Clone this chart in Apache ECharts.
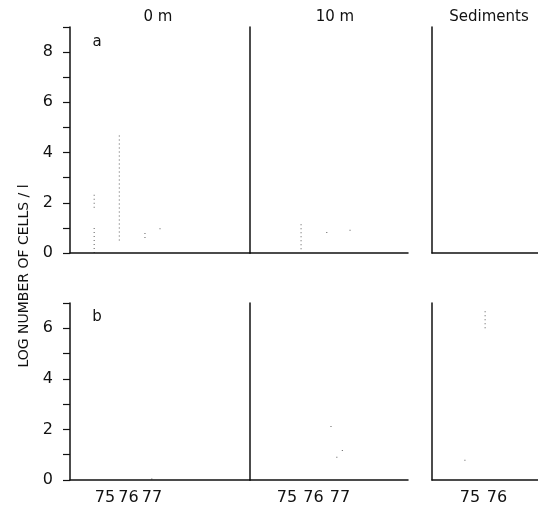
<!DOCTYPE html>
<html>
<head>
<meta charset="utf-8">
<title>Log number of cells</title>
<script src="https://cdn.jsdelivr.net/npm/echarts@6/dist/echarts.min.js"></script>
<style>
	html, body {margin:0; padding:0; background:#fff;}
	#main {width:538px; height:513px;}
</style>
</head>
<body>
<div id="main"></div>
<script>
// year tick labels under each column
var years = [75, 76, 77];
var sedYears = [75, 76];
var yTicksA = [0, 2, 4, 6, 8];
var yTicksB = [0, 2, 4, 6];
var columns = ['0 m', '10 m', 'Sediments'];

// dotted traces [year, log cells]; '-' breaks the trace
var a0m = [[74.54, 0], [74.54, 1.05], '-', [74.54, 1.8], [74.54, 2.4], '-',
	[75.61, 0.5], [75.61, 4.7], '-', [76.70, 0.6], [76.70, 0.92], '-', [77.34, 0.95], [77.34, 1.0]];
var a10m = [[75.53, 0.15], [75.53, 1.25], '-', [76.50, 0.80], [76.50, 0.84], '-', [77.38, 0.89], [77.38, 0.93]];
var aSed = [];
var b0m = [[76.99, 0.02], [76.99, 0.15]];
var b10m = [[76.66, 2.1], [76.66, 2.18], '-', [76.88, 0.88], [76.88, 0.95], '-', [77.09, 1.15], [77.09, 1.22]];
var bSed = [[74.81, 0.76], [74.81, 0.82], '-', [75.56, 6.0], [75.56, 6.75]];

var font = 'DejaVu Sans';
var black = '#111';

function xAx(idx, min, max, labels){
	return {
		type : 'value', gridIndex : idx, min : min, max : max, z : 5,
		splitLine : {show : false},
		axisLine : {show : true, onZero : false, lineStyle : {color : black, width : 1.5}},
		axisTick : {show : false},
		axisLabel : labels ? {show : true, customValues : labels, margin : 10, color : black, fontSize : 16, fontFamily : font} : {show : false}
	};
}
function yAx(idx, max, labels){
	return {
		type : 'value', gridIndex : idx, min : 0, max : max, interval : 1, z : 5,
		splitLine : {show : false},
		axisLine : {show : true, lineStyle : {color : black, width : 1.5}},
		axisTick : {show : !!labels, length : 7, lineStyle : {color : black, width : 1.2}},
		axisLabel : labels ? {show : true, customValues : labels, margin : 17, color : black, fontSize : 16, fontFamily : font} : {show : false}
	};
}
function trace(idx, data){
	return {
		type : 'line', xAxisIndex : idx, yAxisIndex : idx, data : data,
		showSymbol : false, silent : true, z : 2,
		lineStyle : {color : '#777', width : 1.2, type : [1, 3]}
	};
}
function label(x, y, text, size, rot){
	return {type : 'text', x : x, y : y, rotation : rot || 0,
		style : {text : text, fill : black, font : size + 'px ' + font, align : 'center', verticalAlign : 'middle'}};
}

var myChart = echarts.init(document.getElementById('main'));
var option = {
	animation : false,
	backgroundColor : '#fff',
	grid : [
		{left : 70, top : 27, width : 180, height : 226},
		{left : 250, top : 27, width : 158, height : 226},
		{left : 432, top : 27, width : 106, height : 226},
		{left : 70, top : 303, width : 180, height : 177},
		{left : 250, top : 303, width : 158, height : 177},
		{left : 432, top : 303, width : 106, height : 177}
	],
	xAxis : [
		xAx(0, 73.51, 81.17, null),
		xAx(1, 73.6, 79.57, null),
		xAx(2, 73.59, 77.52, null),
		xAx(3, 73.51, 81.17, years),
		xAx(4, 73.6, 79.57, years),
		xAx(5, 73.59, 77.52, sedYears)
	],
	yAxis : [
		yAx(0, 9, yTicksA),
		yAx(1, 9, null),
		yAx(2, 9, null),
		yAx(3, 7, yTicksB),
		yAx(4, 7, null),
		yAx(5, 7, null)
	],
	series : [
		trace(0, a0m), trace(1, a10m), trace(2, aSed),
		trace(3, b0m), trace(4, b10m), trace(5, bSed)
	],
	graphic : [
		label(158, 17, columns[0], 15),
		label(335, 17, columns[1], 15),
		label(489, 17, columns[2], 15),
		label(97, 42, 'a', 15),
		label(97, 317, 'b', 15),
		label(24, 276, 'LOG NUMBER OF CELLS / l', 14, Math.PI / 2)
	]
};
myChart.setOption(option);
</script>
</body>
</html>
